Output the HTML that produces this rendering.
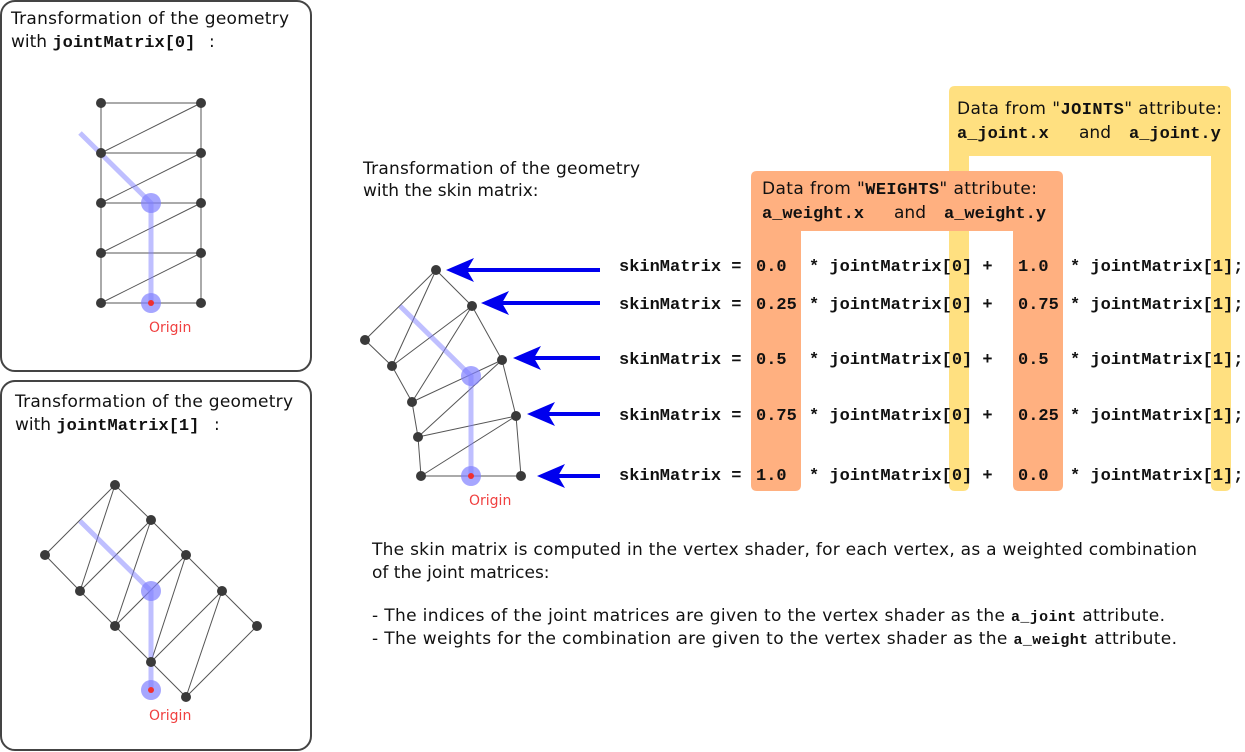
<!DOCTYPE html>
<html><head><meta charset="utf-8"><style>
html,body{margin:0;padding:0;background:#fff;}
svg{display:block;}
.t{font-family:"DejaVu Sans","Liberation Sans",sans-serif;font-size:17px;fill:#111;}
.m{font-family:"Liberation Mono",monospace;font-weight:bold;}
.c{font-family:"Liberation Mono",monospace;font-weight:bold;font-size:17px;fill:#111;}
.o{font-family:"DejaVu Sans","Liberation Sans",sans-serif;font-size:14px;fill:#f04040;}
.e{stroke:#555;stroke-width:1;fill:none;}
.g{stroke:#aaa;stroke-width:2;fill:none;}
</style></head><body>
<svg width="1245" height="752" viewBox="0 0 1245 752" xmlns="http://www.w3.org/2000/svg">
<rect x="1" y="1" width="310" height="370" rx="14" fill="#fff" stroke="#444" stroke-width="2"/>
<rect x="1" y="381" width="310" height="369" rx="14" fill="#fff" stroke="#444" stroke-width="2"/>
<text class="t" x="11" y="24" textLength="278">Transformation of the geometry</text>
<text class="t" x="11" y="47">with <tspan class="m">jointMatrix[0]</tspan><tspan x="209">:</tspan></text>
<text class="t" x="15" y="407" textLength="278">Transformation of the geometry</text>
<text class="t" x="15" y="430">with <tspan class="m">jointMatrix[1]</tspan><tspan x="214">:</tspan></text>

<g>
<path class="g" d="M101 103H201M101 153H201M101 203H201M101 253H201M101 303H201M101 103V303M201 103V303"/>
<path class="e" d="M101 153L201 103M101 203L201 153M101 253L201 203M101 303L201 253"/>
<polyline points="80,133 151,203 151,303" fill="none" stroke="#8080ff" stroke-opacity="0.5" stroke-width="5"/>
<circle cx="151" cy="203" r="10" fill="#8080ff" fill-opacity="0.7"/>
<circle cx="151" cy="303" r="10" fill="#8080ff" fill-opacity="0.7"/>
<g fill="#3a3a3a">
<circle cx="101" cy="103" r="5"/><circle cx="201" cy="103" r="5"/>
<circle cx="101" cy="153" r="5"/><circle cx="201" cy="153" r="5"/>
<circle cx="101" cy="203" r="5"/><circle cx="201" cy="203" r="5"/>
<circle cx="101" cy="253" r="5"/><circle cx="201" cy="253" r="5"/>
<circle cx="101" cy="303" r="5"/><circle cx="201" cy="303" r="5"/>
</g>
<circle cx="151" cy="303" r="3" fill="#f03030"/>
<text class="o" x="149" y="332">Origin</text>
</g>

<g>
<path class="e" d="M115 485L151 520L186 555L222 591L257 626M45 555L80 591L115 626L151 662L186 697
M45 555L115 485M80 591L151 520M115 626L186 555M151 662L222 591M186 697L257 626
M80 591L115 485M115 626L151 520M151 662L186 555M186 697L222 591"/>
<polyline points="80,521 151,591 151,690" fill="none" stroke="#8080ff" stroke-opacity="0.5" stroke-width="5"/>
<circle cx="151" cy="591" r="10" fill="#8080ff" fill-opacity="0.7"/>
<circle cx="151" cy="690" r="10" fill="#8080ff" fill-opacity="0.7"/>
<g fill="#3a3a3a">
<circle cx="115" cy="485" r="5"/><circle cx="151" cy="520" r="5"/><circle cx="186" cy="555" r="5"/><circle cx="222" cy="591" r="5"/><circle cx="257" cy="626" r="5"/>
<circle cx="45" cy="555" r="5"/><circle cx="80" cy="591" r="5"/><circle cx="115" cy="626" r="5"/><circle cx="151" cy="662" r="5"/><circle cx="186" cy="697" r="5"/>
</g>
<circle cx="151" cy="690" r="3" fill="#f03030"/>
<text class="o" x="149" y="720">Origin</text>
</g>

<text class="t" x="363" y="174" textLength="277">Transformation of the geometry</text>
<text class="t" x="363" y="196">with the skin matrix:</text>

<g>
<path class="e" d="M436 270L365 340M436 270L472 306M436 270L392 366M365 340L392 366M392 366L472 306M392 366L412 402M472 306L412 402M472 306L502 360M502 360L412 402M502 360L418 437M412 402L418 437M502 360L516 416M418 437L516 416M418 437L421 476M516 416L421 476M516 416L521 476"/>
<path class="g" d="M421 476H521"/>
<polyline points="400,306 471,376 471,476" fill="none" stroke="#8080ff" stroke-opacity="0.5" stroke-width="5"/>
<circle cx="471" cy="376" r="10" fill="#8080ff" fill-opacity="0.7"/>
<circle cx="471" cy="476" r="10" fill="#8080ff" fill-opacity="0.7"/>
<g fill="#3a3a3a">
<circle cx="436" cy="270" r="5"/><circle cx="472" cy="306" r="5"/><circle cx="365" cy="340" r="5"/><circle cx="392" cy="366" r="5"/><circle cx="502" cy="360" r="5"/><circle cx="412" cy="402" r="5"/><circle cx="516" cy="416" r="5"/><circle cx="418" cy="437" r="5"/><circle cx="421" cy="476" r="5"/><circle cx="521" cy="476" r="5"/>
</g>
<circle cx="471" cy="476" r="3" fill="#f03030"/>
<text class="o" x="469" y="505">Origin</text>
</g>

<g fill="#0000ee" stroke="#0000ee">
<line x1="600" y1="270" x2="465" y2="270" stroke-width="4"/><polygon points="446,270 474,258 467,270 474,282" stroke="none"/>
<line x1="600" y1="303" x2="500" y2="303" stroke-width="4"/><polygon points="481,303 509,291 502,303 509,315" stroke="none"/>
<line x1="600" y1="358" x2="532" y2="358" stroke-width="4"/><polygon points="513,358 541,346 534,358 541,370" stroke="none"/>
<line x1="600" y1="414" x2="546" y2="414" stroke-width="4"/><polygon points="527,414 555,402 548,414 555,426" stroke="none"/>
<line x1="600" y1="476" x2="556" y2="476" stroke-width="4"/><polygon points="537,476 565,464 558,476 565,488" stroke="none"/>
</g>

<path fill="#ffe080" d="M955 86H1225Q1231 86 1231 92V485Q1231 491 1225 491H1217Q1211 491 1211 485V156H969V485Q969 491 963 491H955Q949 491 949 485V92Q949 86 955 86Z"/>
<path fill="#ffb080" d="M757 171H1057Q1063 171 1063 177V485Q1063 491 1057 491H1019Q1013 491 1013 485V231H801V485Q801 491 795 491H757Q751 491 751 485V177Q751 171 757 171Z"/>
<text class="t" x="957" y="114" font-size="16" textLength="265">Data from "<tspan class="m">JOINTS</tspan>" attribute:</text>
<text class="t" x="957" y="138" font-size="16"><tspan class="m" x="957">a_joint.x</tspan><tspan x="1079">and</tspan><tspan class="m" x="1129">a_joint.y</tspan></text>
<text class="t" x="762" y="194" font-size="16" textLength="275">Data from "<tspan class="m">WEIGHTS</tspan>" attribute:</text>
<text class="t" x="762" y="218" font-size="16"><tspan class="m" x="762">a_weight.x</tspan><tspan x="894">and</tspan><tspan class="m" x="944">a_weight.y</tspan></text>

<g class="c">
<text y="271"><tspan x="619">skinMatrix =</tspan><tspan x="756">0.0</tspan><tspan x="809">* jointMatrix[0] +</tspan><tspan x="1018">1.0</tspan><tspan x="1070">* jointMatrix[1];</tspan></text>
<text y="309"><tspan x="619">skinMatrix =</tspan><tspan x="756">0.25</tspan><tspan x="809">* jointMatrix[0] +</tspan><tspan x="1018">0.75</tspan><tspan x="1070">* jointMatrix[1];</tspan></text>
<text y="364"><tspan x="619">skinMatrix =</tspan><tspan x="756">0.5</tspan><tspan x="809">* jointMatrix[0] +</tspan><tspan x="1018">0.5</tspan><tspan x="1070">* jointMatrix[1];</tspan></text>
<text y="420"><tspan x="619">skinMatrix =</tspan><tspan x="756">0.75</tspan><tspan x="809">* jointMatrix[0] +</tspan><tspan x="1018">0.25</tspan><tspan x="1070">* jointMatrix[1];</tspan></text>
<text y="480"><tspan x="619">skinMatrix =</tspan><tspan x="756">1.0</tspan><tspan x="809">* jointMatrix[0] +</tspan><tspan x="1018">0.0</tspan><tspan x="1070">* jointMatrix[1];</tspan></text>
</g>

<g class="t" font-size="16">
<text x="372" y="555" textLength="825">The skin matrix is computed in the vertex shader, for each vertex, as a weighted combination</text>
<text x="372" y="578">of the joint matrices:</text>
<text x="372" y="621" textLength="793">- The indices of the joint matrices are given to the vertex shader as the <tspan class="m" font-size="15">a_joint</tspan> attribute.</text>
<text x="372" y="644" textLength="805">- The weights for the combination are given to the vertex shader as the <tspan class="m" font-size="15">a_weight</tspan> attribute.</text>
</g>
</svg>
</body></html>
